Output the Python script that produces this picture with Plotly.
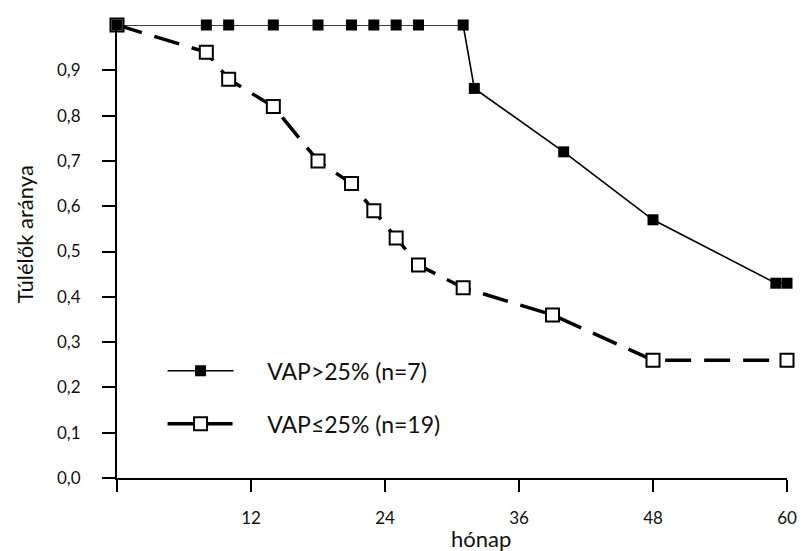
import plotly.graph_objects as go

# Kaplan-Meier style survival curves (months vs. proportion surviving)
months_high = [0, 8, 10, 14, 18, 21, 23, 25, 27, 31, 32, 40, 48, 59, 60]
surv_high = [1.0, 1.0, 1.0, 1.0, 1.0, 1.0, 1.0, 1.0, 1.0, 1.0, 0.86, 0.72, 0.57, 0.43, 0.43]

months_low = [0, 8, 10, 14, 18, 21, 23, 25, 27, 31, 39, 48, 60]
surv_low = [1.0, 0.94, 0.88, 0.82, 0.70, 0.65, 0.59, 0.53, 0.47, 0.42, 0.36, 0.26, 0.26]

name_high = "VAP>25% (n=7)"
name_low = "VAP≤25% (n=19)"

x_ticks = [0, 12, 24, 36, 48, 60]
x_ticktext = ["", "12", "24", "36", "48", "60"]
y_ticks = [0.0, 0.1, 0.2, 0.3, 0.4, 0.5, 0.6, 0.7, 0.8, 0.9]

FONT = "Lato"
PAD = "\u00a0" * 5  # gap between legend symbol and label

fig = go.Figure()

# open-square group first so the filled start marker sits on top
fig.add_trace(go.Scatter(
    x=months_low, y=surv_low, name=PAD + name_low, mode="lines+markers",
    legendgroup="low", legendrank=2,
    line=dict(color="black", width=3.5, dash="26px,13px"),
    marker=dict(symbol="square", size=13, color="white",
                line=dict(color="black", width=2)),
    cliponaxis=False,
))

fig.add_trace(go.Scatter(
    x=months_high, y=surv_high, name=PAD + name_high, mode="lines+markers",
    legendgroup="high", legendrank=1,
    line=dict(color="black", width=1.6),
    marker=dict(symbol="square", size=11, color="black",
                line=dict(color="black", width=0)),
    cliponaxis=False,
))

fig.update_layout(
    width=809, height=551,
    margin=dict(l=117, r=14, t=25, b=73),
    paper_bgcolor="white", plot_bgcolor="white",
    font=dict(family=FONT, color="#111111"),
    separators=",.",
    showlegend=True,
    legend=dict(
        x=0.068, y=0.284, xanchor="left", yanchor="top",
        bgcolor="rgba(0,0,0,0)", borderwidth=0,
        font=dict(family=FONT, size=23, color="#111111"),
        traceorder="grouped", tracegroupgap=20,
        itemwidth=66,
    ),
    xaxis=dict(
        range=[0, 60], showgrid=False, zeroline=False,
        showline=True, linecolor="black", linewidth=2,
        ticks="outside", ticklen=12, tickwidth=2, tickcolor="black",
        tickvals=x_ticks, ticktext=x_ticktext,
        tickfont=dict(family=FONT, size=17, color="#111111"),
        ticklabelstandoff=12,
    ),
    yaxis=dict(
        range=[0, 1], showgrid=False, zeroline=False,
        showline=True, linecolor="black", linewidth=2,
        ticks="outside", ticklen=13, tickwidth=2, tickcolor="black",
        tickvals=y_ticks, tickformat=".1f",
        tickfont=dict(family=FONT, size=17, color="#111111"),
        ticklabelstandoff=18,
    ),
    annotations=[
        dict(text="hónap", xref="paper", yref="paper", x=0.543, y=-0.133,
             xanchor="center", yanchor="middle", showarrow=False,
             font=dict(family=FONT, size=22, color="#111111")),
        dict(text="Túlélők aránya", xref="paper", yref="paper", x=-0.139, y=0.538,
             xanchor="center", yanchor="middle", showarrow=False, textangle=-90,
             font=dict(family=FONT, size=22, color="#111111")),
    ],
)

fig.write_html("out.html")
